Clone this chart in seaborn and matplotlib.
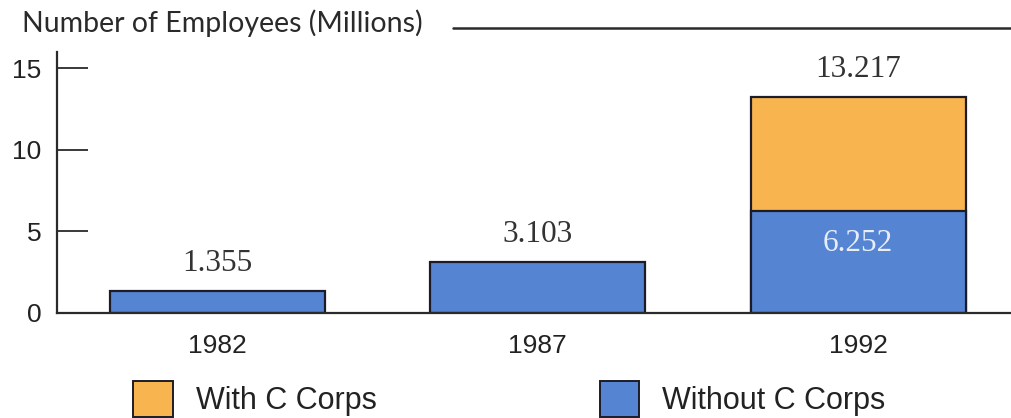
import matplotlib
matplotlib.use("Agg")
import matplotlib.pyplot as plt
import seaborn as sns
import pandas as pd
from matplotlib.patches import Patch

# ---- data ----
years = ["1982", "1987", "1992"]
without_c_corps = [1.355, 3.103, 6.252]
with_c_corps_years = ["1992"]
with_c_corps_total = [13.217]
y_ticks = [0, 5, 10, 15]
ylabel_text = "Number of Employees (Millions)"
legend_labels = ["With C Corps", "Without C Corps"]

ORANGE = "#F8B54F"
BLUE = "#5584D2"
EDGE = "#1c1c28"

sns.set_theme(style="white")
plt.rcParams["font.family"] = ["Liberation Sans", "DejaVu Sans"]

fig = plt.figure(figsize=(10.12, 4.18), dpi=100)
ax = fig.add_axes([57 / 1012, 1 - 313 / 418, 1 - 57 / 1012, (313 - 52) / 418])

df_without = pd.DataFrame({"year": years, "value": without_c_corps})
df_with = pd.DataFrame({"year": with_c_corps_years, "value": with_c_corps_total})

sns.barplot(data=df_with, x="year", y="value", order=years, color=ORANGE,
            saturation=1, edgecolor=EDGE, linewidth=1.6, width=0.67, ax=ax)
sns.barplot(data=df_without, x="year", y="value", order=years, color=BLUE,
            saturation=1, edgecolor=EDGE, linewidth=1.6, width=0.67, ax=ax)

ax.set_xlim(-0.5, 2.48)
ax.set_ylim(0, 16)
ax.set_yticks(y_ticks)
ax.set_xlabel("")
ax.set_ylabel("")

for s in ["top", "right"]:
    ax.spines[s].set_visible(False)
for s in ["left", "bottom"]:
    ax.spines[s].set_visible(True)
    ax.spines[s].set_color("#2a2a2a")
    ax.spines[s].set_linewidth(1.6)

ax.tick_params(axis="y", left=True, direction="in", length=22, width=1.3, color="#2a2a2a",
               pad=11, labelsize=19, labelcolor="#222222")
ax.tick_params(axis="x", bottom=False, length=0, pad=15, labelsize=19, labelcolor="#222222")

serif = ["Liberation Serif", "DejaVu Serif"]
# total labels above bars
totals = list(without_c_corps)
for yr, v in zip(with_c_corps_years, with_c_corps_total):
    totals[years.index(yr)] = v
for i, v in enumerate(totals):
    ax.annotate(f"{v:.3f}", xy=(i, v), xytext=(0, 9.5), textcoords="offset points",
                ha="center", va="bottom", fontsize=22.5, color="#333333", family=serif)
# inner label for the stacked bar
for yr in with_c_corps_years:
    i = years.index(yr)
    v = without_c_corps[i]
    ax.annotate(f"{v:.3f}", xy=(i, v), xytext=(0, -13), textcoords="offset points",
                ha="center", va="top", fontsize=22.5, color="#e8eef8", family=serif)

# top label with rule
fig.text(22 / 1012, 1 - 32 / 418, ylabel_text, ha="left", va="baseline",
         fontsize=20.5, color="#2a2a2a", family=["Lato", "DejaVu Sans"])
fig.add_artist(plt.Line2D([453 / 1012, 1.0], [1 - 28 / 418, 1 - 28 / 418],
                          transform=fig.transFigure, color="#2a2a2a", linewidth=1.8))

handles = [Patch(facecolor=ORANGE, edgecolor=EDGE, linewidth=1.4),
           Patch(facecolor=BLUE, edgecolor=EDGE, linewidth=1.4)]
fig.legend(handles, legend_labels, loc="center left",
           bbox_to_anchor=(133 / 1012, 1 - 399 / 418), ncol=2, frameon=False,
           fontsize=22, handlelength=1.3, handleheight=1.4, handletextpad=0.75,
           columnspacing=7.3, borderpad=0, borderaxespad=0, labelcolor="#222222")

fig.savefig("out.png", dpi=100)
